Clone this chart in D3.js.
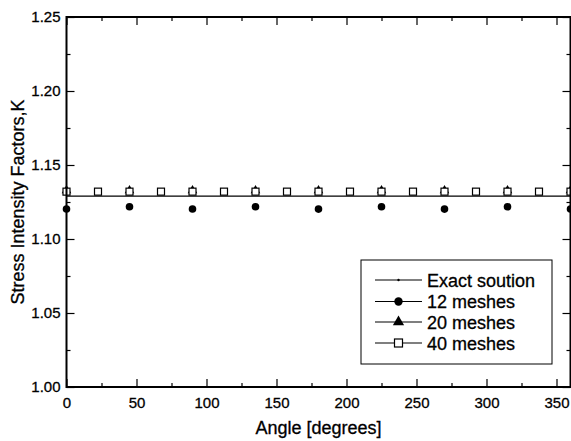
<!DOCTYPE html>
<html>
<head>
<meta charset="utf-8">
<script src="https://cdn.jsdelivr.net/npm/d3@7/dist/d3.min.js"></script>
<style>
html,body{margin:0;padding:0;background:#fff;}
svg{display:block;font-family:"Liberation Sans",Arial,Helvetica,sans-serif;}
svg text{stroke:#000;stroke-width:0.3px;}
</style>
</head>
<body>
<svg id="chart" width="571" height="441"></svg>
<script>
// ---- data ----
const exactAngles = [0, 45, 90, 135, 180, 225, 270, 315, 360];
const exactValues = [1.129, 1.129, 1.129, 1.129, 1.129, 1.129, 1.129, 1.129, 1.129];

const mesh12Angles = [0, 45, 90, 135, 180, 225, 270, 315, 360];
const mesh12Values = [1.1203, 1.1218, 1.1203, 1.1218, 1.1202, 1.1218, 1.1202, 1.1218, 1.1203];

const mesh20Angles = [0, 45, 90, 135, 180, 225, 270, 315, 360];
const mesh20Values = [1.1328, 1.1328, 1.1328, 1.1328, 1.1328, 1.1328, 1.1328, 1.1328, 1.1328];

const mesh40Angles = [0, 22.5, 45, 67.5, 90, 112.5, 135, 157.5, 180, 202.5, 225, 247.5, 270, 292.5, 315, 337.5, 360];
const mesh40Values = [1.132, 1.132, 1.132, 1.132, 1.132, 1.132, 1.132, 1.132, 1.132, 1.132, 1.132, 1.132, 1.132, 1.132, 1.132, 1.132, 1.132];

const xTicks = [0, 50, 100, 150, 200, 250, 300, 350];
const xMinorTicks = [25, 75, 125, 175, 225, 275, 325];
const yTicks = [1.00, 1.05, 1.10, 1.15, 1.20, 1.25];
const yMinorTicks = [1.025, 1.075, 1.125, 1.175, 1.225];

const legendLabels = ["Exact soution", "12 meshes", "20 meshes", "40 meshes"];
const xTitle = "Angle [degrees]";
const yTitle = "Stress Intensity Factors,K";

// ---- layout ----
const svg = d3.select("#chart");
const L = 66.5, R = 570.5, T = 17, B = 387;
const x = d3.scaleLinear().domain([0, 360]).range([L, R]);
const y = d3.scaleLinear().domain([1.0, 1.25]).range([B, T]);

const fontTick = 15;

// exact line
const line = d3.line().x(d => x(d[0])).y(d => y(d[1]));
svg.append("path")
  .datum(exactAngles.map((a, i) => [a, exactValues[i]]))
  .attr("d", line).attr("fill", "none").attr("stroke", "#000").attr("stroke-width", 1.2);

// 20 meshes triangles (under squares)
const tri = d3.symbol().type(d3.symbolTriangle).size(40);
svg.append("g").selectAll("path").data(mesh20Angles.map((a, i) => [a, mesh20Values[i]]))
  .join("path").attr("d", tri)
  .attr("transform", d => `translate(${x(d[0])},${y(d[1])})`)
  .attr("fill", "#000");

// 40 meshes squares
const sq = 7;
svg.append("g").selectAll("rect").data(mesh40Angles.map((a, i) => [a, mesh40Values[i]]))
  .join("rect")
  .attr("x", d => x(d[0]) - sq / 2).attr("y", d => y(d[1]) - sq / 2)
  .attr("width", sq).attr("height", sq)
  .attr("fill", "#fff").attr("stroke", "#000").attr("stroke-width", 1.2);

// 12 meshes circles
svg.append("g").selectAll("circle").data(mesh12Angles.map((a, i) => [a, mesh12Values[i]]))
  .join("circle")
  .attr("cx", d => x(d[0])).attr("cy", d => y(d[1])).attr("r", 3.8)
  .attr("fill", "#000");

// ---- axes ----
function styleAxis(g) {
  g.select(".domain").remove();
  g.selectAll("line").attr("stroke", "#000").attr("stroke-width", 1.2);
  g.selectAll("text").attr("font-size", fontTick).attr("fill", "#000")
    .attr("font-family", "'Liberation Sans',Arial,sans-serif");
}
// bottom major
svg.append("g").attr("transform", `translate(0,${B})`)
  .call(d3.axisBottom(x).tickValues(xTicks).tickFormat(d3.format("d")).tickSize(-8).tickPadding(10))
  .call(styleAxis);
svg.append("g").attr("transform", `translate(0,${B})`)
  .call(d3.axisBottom(x).tickValues(xMinorTicks).tickFormat("").tickSize(-4))
  .call(styleAxis);
// top
svg.append("g").attr("transform", `translate(0,${T})`)
  .call(d3.axisTop(x).tickValues(xTicks).tickFormat("").tickSize(-8))
  .call(styleAxis);
svg.append("g").attr("transform", `translate(0,${T})`)
  .call(d3.axisTop(x).tickValues(xMinorTicks).tickFormat("").tickSize(-4))
  .call(styleAxis);
// left
svg.append("g").attr("transform", `translate(${L},0)`)
  .call(d3.axisLeft(y).tickValues(yTicks).tickFormat(d3.format(".2f")).tickSize(-8).tickPadding(6))
  .call(styleAxis);
svg.append("g").attr("transform", `translate(${L},0)`)
  .call(d3.axisLeft(y).tickValues(yMinorTicks).tickFormat("").tickSize(-4))
  .call(styleAxis);
// right
svg.append("g").attr("transform", `translate(${R},0)`)
  .call(d3.axisRight(y).tickValues(yTicks).tickFormat("").tickSize(-8))
  .call(styleAxis);
svg.append("g").attr("transform", `translate(${R},0)`)
  .call(d3.axisRight(y).tickValues(yMinorTicks).tickFormat("").tickSize(-4))
  .call(styleAxis);

// frame
svg.append("rect").attr("x", L).attr("y", T).attr("width", R - L).attr("height", B - T)
  .attr("fill", "none").attr("stroke", "#000").attr("stroke-width", 2);

// titles
svg.append("text").attr("x", (L + R) / 2).attr("y", 434).attr("text-anchor", "middle")
  .attr("font-size", 18).text(xTitle);
svg.append("text").attr("transform", `translate(24,${(T + B) / 2}) rotate(-90)`)
  .attr("text-anchor", "middle").attr("font-size", 18).text(yTitle);

// ---- legend ----
const lg = svg.append("g");
lg.append("rect").attr("x", 361).attr("y", 260).attr("width", 191).attr("height", 104)
  .attr("fill", "#fff").attr("stroke", "#000").attr("stroke-width", 1);
const rowY = [280, 301.5, 322, 343];
legendLabels.forEach((lab, i) => {
  const yy = rowY[i];
  lg.append("line").attr("x1", 375).attr("x2", 422).attr("y1", yy).attr("y2", yy)
    .attr("stroke", "#000").attr("stroke-width", 1.2);
  const cx = 398.5;
  if (i === 0) {
    lg.append("circle").attr("cx", cx).attr("cy", yy).attr("r", 1.2).attr("fill", "#000");
  } else if (i === 1) {
    lg.append("circle").attr("cx", cx).attr("cy", yy).attr("r", 4.2).attr("fill", "#000");
  } else if (i === 2) {
    lg.append("path").attr("d", d3.symbol().type(d3.symbolTriangle).size(55))
      .attr("transform", `translate(${cx},${yy})`).attr("fill", "#000");
  } else {
    lg.append("rect").attr("x", cx - 4).attr("y", yy - 4).attr("width", 8).attr("height", 8)
      .attr("fill", "#fff").attr("stroke", "#000").attr("stroke-width", 1.2);
  }
  lg.append("text").attr("x", 427).attr("y", yy + 6.5).attr("font-size", 18)
    .attr("fill", "#000").text(lab);
});
</script>
</body>
</html>
